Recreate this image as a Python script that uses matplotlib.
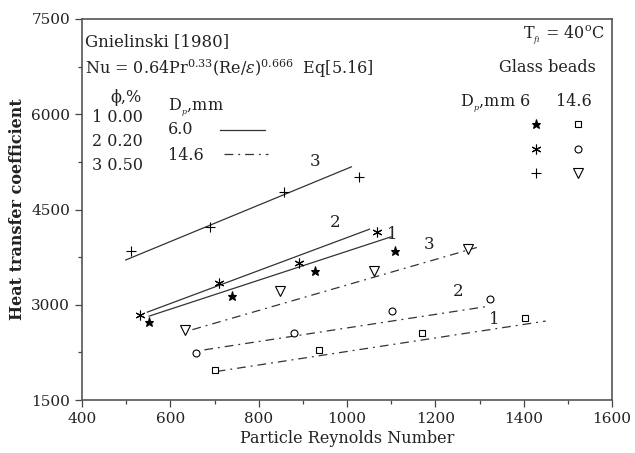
import matplotlib
matplotlib.use("Agg")
import matplotlib.pyplot as plt
from matplotlib.ticker import MultipleLocator

plt.rcParams['font.family'] = ['DejaVu Serif']
plt.rcParams['mathtext.fontset'] = 'dejavuserif'

# ---- data (Particle Reynolds number, heat transfer coefficient) ----
re_6_phi0 = [552, 740, 927, 1109]
h_6_phi0 = [2727, 3134, 3527, 3851]
re_6_phi02 = [532, 711, 892, 1067]
h_6_phi02 = [2832, 3344, 3652, 4153]
re_6_phi05 = [512, 690, 857, 1028]
h_6_phi05 = [3851, 4227, 4775, 5015]

re_146_phi0 = [700, 936, 1170, 1404]
h_146_phi0 = [1970, 2283, 2555, 2796]
re_146_phi02 = [658, 880, 1101, 1323]
h_146_phi02 = [2241, 2550, 2899, 3093]
re_146_phi05 = [634, 848, 1061, 1274]
h_146_phi05 = [2608, 3224, 3527, 3877]

# correlation lines (Gnielinski, Eq 5.16): start/end values
corr_6_re = {1: [552, 1100], 2: [548, 1051], 3: [499, 1010]}
corr_6_h = {1: [2821, 4070], 2: [2884, 4190], 3: [3705, 5172]}
corr_146_re = {1: [705, 1450], 2: [677, 1317], 3: [650, 1294]}
corr_146_h = {1: [1950, 2743], 2: [2290, 2973], 3: [2608, 3902]}

x_ticks = [400, 600, 800, 1000, 1200, 1400, 1600]
y_ticks = [1500, 3000, 4500, 6000, 7500]

W, H = 635, 453
fig = plt.figure(figsize=(W / 100, H / 100), dpi=100)
ax = fig.add_axes([82 / W, 1 - 400 / H, (612 - 82) / W, (400 - 19) / H])

lc = '#333333'
dashdot = (0, (7, 4, 1.5, 4))
for k in (1, 2, 3):
    ax.plot(corr_6_re[k], corr_6_h[k], color=lc, lw=0.9, ls='-')
    ax.plot(corr_146_re[k], corr_146_h[k], color=lc, lw=0.9, ls=dashdot)

mk = dict(color='black', lw=0, markeredgewidth=0.8)
ax.plot(re_6_phi0, h_6_phi0, marker='*', markersize=6.5, markerfacecolor='black', **mk)
ax.plot(re_6_phi02, h_6_phi02, marker=(6, 2, 0), markersize=7, **mk)
ax.plot(re_6_phi05, h_6_phi05, marker='+', markersize=7, **mk)
ax.plot(re_146_phi0, h_146_phi0, marker='s', markersize=5, markerfacecolor='white', **mk)
ax.plot(re_146_phi02, h_146_phi02, marker='o', markersize=5, markerfacecolor='white', **mk)
ax.plot(re_146_phi05, h_146_phi05, marker='v', markersize=7, markerfacecolor='white', **mk)

ax.set_xlim(400, 1600)
ax.set_ylim(1500, 7500)
ax.set_xticks(x_ticks)
ax.set_yticks(y_ticks)
ax.xaxis.set_minor_locator(MultipleLocator(100))
ax.yaxis.set_minor_locator(MultipleLocator(750))
ax.tick_params(which='major', direction='out', length=5, width=0.9, colors='#444444',
               labelsize=11, labelcolor='#222222', top=False, right=False)
ax.tick_params(which='minor', direction='out', length=3, width=0.9, colors='#444444',
               top=False, right=False)
for s in ax.spines.values():
    s.set_color('#555555')
    s.set_linewidth(1.2)

ax.set_xlabel('Particle Reynolds Number', fontsize=11.5, color='#222222', labelpad=3)
ax.set_ylabel('Heat transfer coefficient', fontsize=11.5, color='#222222',
              fontweight='bold', labelpad=4)

tc = '#222222'
fs = 11.5
def px(x, y):
    return (x - 82) / (612 - 82), (400 - y) / (400 - 19)

tr = ax.transAxes
ax.text(*px(85, 42), 'Gnielinski [1980]', transform=tr, fontsize=fs + 0.5, color=tc, va='center')
ax.text(*px(85, 69), r'Nu = 0.64Pr$^{0.33}$(Re/$\varepsilon$)$^{0.666}$  Eq[5.16]',
        transform=tr, fontsize=fs, color=tc, va='center')
ax.text(*px(126, 97), 'ϕ,%', transform=tr, fontsize=fs, color=tc, va='center', ha='center')
for i, (lab, yy) in enumerate([('1 0.00', 118), ('2 0.20', 142), ('3 0.50', 165)]):
    ax.text(*px(92, yy), lab, transform=tr, fontsize=fs, color=tc, va='center')
ax.text(*px(168, 108), r'D$_{_p}$,mm', transform=tr, fontsize=fs, color=tc, va='center')
ax.text(*px(168, 130), '6.0', transform=tr, fontsize=fs, color=tc, va='center')
ax.text(*px(168, 155), '14.6', transform=tr, fontsize=fs, color=tc, va='center')
ax.plot([px(220, 0)[0], px(265, 0)[0]], [px(0, 130)[1]] * 2, transform=tr, color=lc, lw=0.9)
ax.plot([px(224, 0)[0], px(268, 0)[0]], [px(0, 154)[1]] * 2, transform=tr, color=lc, lw=0.9, ls=dashdot)

ax.text(*px(605, 35), r'T$_{_{fi}}$ = 40$^{\rm o}$C', transform=tr, fontsize=fs, color=tc,
        va='center', ha='right')
ax.text(*px(596, 67), 'Glass beads', transform=tr, fontsize=fs, color=tc, va='center', ha='right')
ax.text(*px(460, 106), r'D$_{_p}$,mm 6', transform=tr, fontsize=fs, color=tc, va='baseline')
ax.text(*px(574, 106), '14.6', transform=tr, fontsize=fs, color=tc, va='baseline', ha='center')
for m, yy, ms in [('*', 124, 6.5), ((6, 2, 0), 149, 7), ('+', 173, 7)]:
    ax.plot(*px(536, yy), transform=tr, marker=m, markersize=ms,
            markerfacecolor='black', color='black', markeredgewidth=0.8)
for m, yy, ms in [('s', 124, 5), ('o', 149, 5), ('v', 173, 7)]:
    ax.plot(*px(578, yy), transform=tr, marker=m, markersize=ms, markerfacecolor='white',
            color='black', markeredgewidth=0.8)

for lab, (xx, yy) in [('3', (315, 161)), ('2', (335, 223)), ('1', (392, 235)),
                      ('3', (429, 245)), ('2', (458, 292)), ('1', (494, 319))]:
    ax.text(*px(xx, yy), lab, transform=tr, fontsize=fs + 0.5, color=tc, va='center', ha='center')

fig.savefig('out.png', dpi=100)
